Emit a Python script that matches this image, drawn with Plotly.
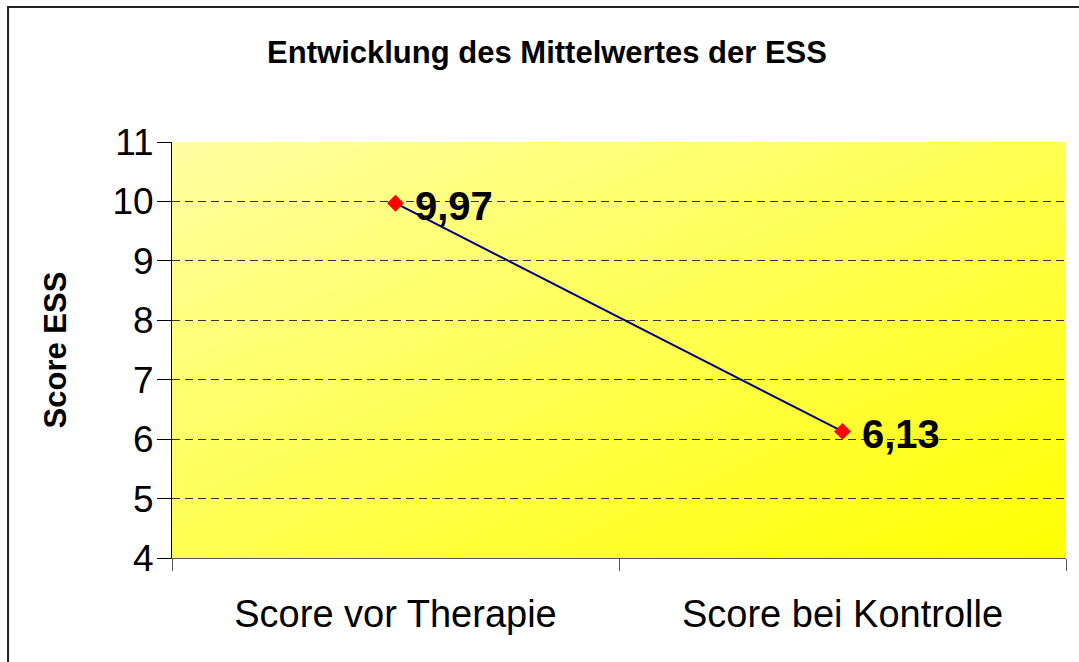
import plotly.graph_objects as go

# data
categories = ["Score vor Therapie", "Score bei Kontrolle"]
mean_ess = [9.97, 6.13]
y_ticks = [4, 5, 6, 7, 8, 9, 10, 11]

FONT = "Liberation Sans, Arial, sans-serif"

fig = go.Figure()

# yellow gradient behind the plot area (own invisible axes)
fig.add_trace(
    go.Heatmap(
        z=[[0, 1], [1, 2]],
        x=[0, 1],
        y=[1, 0],
        zsmooth="best",
        colorscale=[[0, "#FFFFA3"], [1, "#FFFF00"]],
        showscale=False,
        hoverinfo="skip",
        xaxis="x",
        yaxis="y",
    )
)

fig.add_trace(
    go.Scatter(
        x=categories,
        y=mean_ess,
        mode="lines+markers",
        line=dict(color="#000080", width=2),
        marker=dict(symbol="diamond", size=13, color="#FF0000"),
        xaxis="x2",
        yaxis="y2",
        showlegend=False,
        cliponaxis=False,
    )
)

# value labels next to the points (German decimal comma)
for cat, val in zip(categories, mean_ess):
    fig.add_annotation(
        x=cat, y=val, xref="x2", yref="y2",
        text=f"<b>{val:.2f}</b>".replace(".", ","),
        showarrow=False,
        xanchor="left", yanchor="middle",
        xshift=17, yshift=-3,
        font=dict(family=FONT, size=40, color="#000000"),
    )

# outer frame of the chart
fig.add_shape(
    type="rect", xref="paper", yref="paper",
    x0=-0.1834, x1=1.2, y0=-0.6, y1=1.3245,
    line=dict(color="#222222", width=2), fillcolor="rgba(0,0,0,0)",
)

fig.update_layout(
    width=1079,
    height=662,
    paper_bgcolor="white",
    plot_bgcolor="rgba(0,0,0,0)",
    font=dict(family=FONT, color="#000000"),
    margin=dict(l=172, r=13, t=142, b=104),
    title=dict(
        text="<b>Entwicklung des Mittelwertes der ESS</b>",
        font=dict(family=FONT, size=31, color="#000000"),
        x=0.507, xanchor="center", xref="container",
        y=0.921, yanchor="middle", yref="container",
    ),
    xaxis=dict(domain=[0, 1], range=[0, 1], visible=False, fixedrange=True),
    yaxis=dict(domain=[0, 1], range=[0, 1], visible=False, fixedrange=True),
    xaxis2=dict(
        type="category",
        domain=[0, 1],
        anchor="y2",
        range=[-0.5, 1.5],
        tickson="boundaries",
        ticks="outside",
        ticklen=12,
        tickcolor="#555555",
        showline=True,
        linecolor="#555555",
        linewidth=1,
        showgrid=False,
        tickfont=dict(family=FONT, size=38, color="#000000"),
        ticklabelstandoff=22,
    ),
    yaxis2=dict(
        domain=[0, 1],
        anchor="x2",
        range=[4, 11],
        tickvals=y_ticks,
        ticks="outside",
        ticklen=14,
        tickcolor="#000000",
        showline=True,
        linecolor="#000000",
        linewidth=1,
        showgrid=True,
        gridcolor="#333333",
        griddash="8px,5px",
        gridwidth=1,
        zeroline=False,
        tickfont=dict(family=FONT, size=37, color="#000000"),
        ticklabelstandoff=-4,
        title=dict(
            text="<b>Score ESS</b>",
            font=dict(family=FONT, size=31, color="#000000"),
            standoff=36,
        ),
    ),
)

# page has a default 8px body margin; drop it so the figure sits at (0,0)
fig.write_html(
    "out.html",
    config={"displayModeBar": False},
    post_script="document.body.style.margin='0px';",
)
